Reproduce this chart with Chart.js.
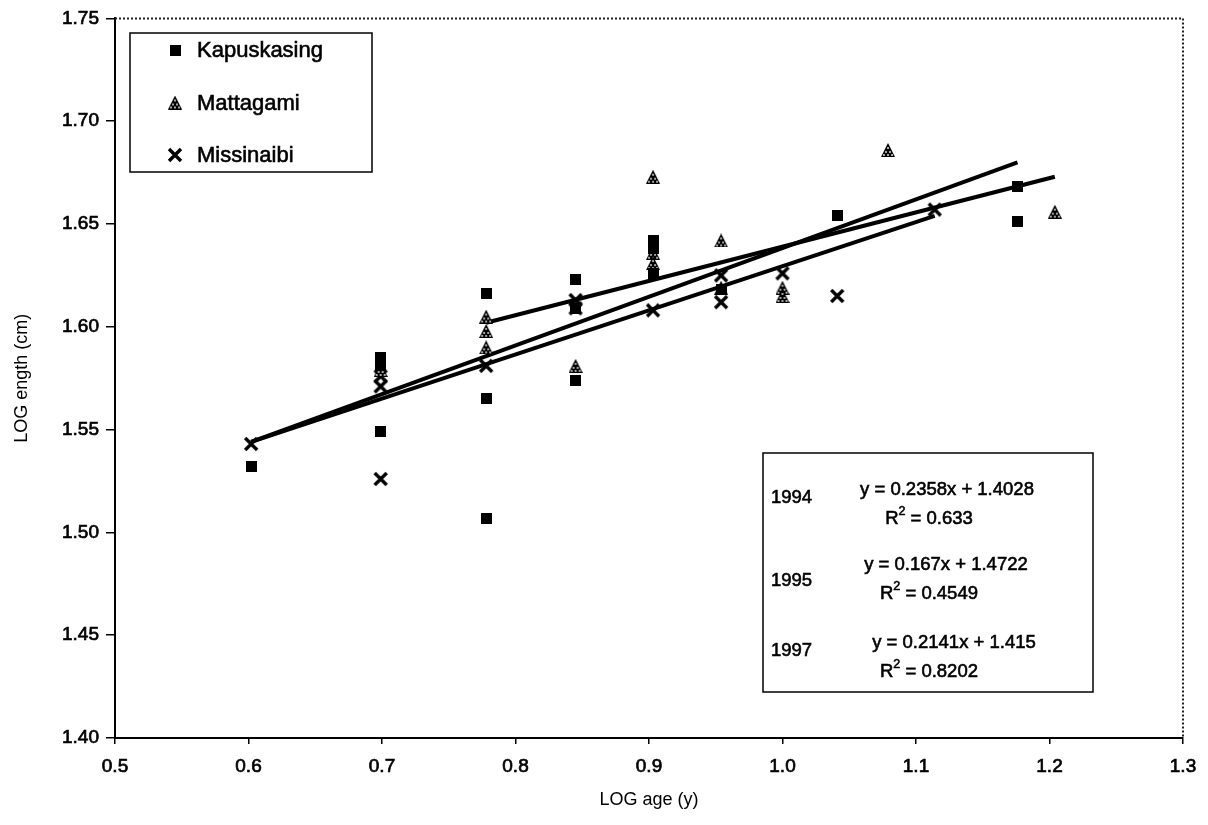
<!DOCTYPE html>
<html>
<head>
<meta charset="utf-8">
<script src="https://cdn.jsdelivr.net/npm/chart.js@4.4.1/dist/chart.umd.min.js"></script>
<style>
  html, body { margin: 0; padding: 0; background: #fff; }
  #wrap { width: 1208px; height: 825px; }
</style>
</head>
<body>
<div id="wrap"><canvas id="logChart" width="1208" height="825"></canvas></div>
<script>
// LOG age vs LOG length, three rivers
var kapX = [0.602, 0.699, 0.699, 0.699, 0.778, 0.778, 0.778, 0.845, 0.845, 0.845, 0.903, 0.903, 0.903, 0.954, 1.041, 1.176, 1.176];
var kapY = [1.532, 1.585, 1.581, 1.549, 1.616, 1.565, 1.507, 1.623, 1.609, 1.574, 1.642, 1.638, 1.626, 1.618, 1.654, 1.668, 1.651];

var matX = [0.699, 0.778, 0.778, 0.778, 0.845, 0.903, 0.903, 0.903, 0.954, 0.954, 1.0, 1.0, 1.079, 1.204];
var matY = [1.579, 1.605, 1.598, 1.590, 1.581, 1.673, 1.636, 1.631, 1.642, 1.619, 1.619, 1.615, 1.686, 1.656];

var misX = [0.602, 0.699, 0.699, 0.699, 0.778, 0.845, 0.845, 0.903, 0.954, 0.954, 1.0, 1.041, 1.114];
var misY = [1.543, 1.576, 1.571, 1.526, 1.581, 1.613, 1.609, 1.608, 1.625, 1.612, 1.626, 1.615, 1.657];

// trend lines (end points)
var t1994X = [0.602, 1.176];
var t1994Y = [1.544, 1.680];
var t1995X = [0.778, 1.204];
var t1995Y = [1.602, 1.673];
var t1997X = [0.602, 1.114];
var t1997Y = [1.544, 1.654];

var years = ["1994", "1995", "1997"];
var equations = ["y = 0.2358x + 1.4028", "y = 0.167x + 1.4722", "y = 0.2141x + 1.415"];
var rSquared = ["0.633", "0.4549", "0.8202"];

var seriesNames = ["Kapuskasing", "Mattagami", "Missinaibi"];

var FONT = "'Liberation Sans', Arial, sans-serif";

function pts(xs, ys) {
  return xs.map(function (x, i) { return { x: x, y: ys[i] }; });
}

// marker images
function squareMark() {
  var c = document.createElement("canvas");
  c.width = 11; c.height = 11;
  var g = c.getContext("2d");
  g.fillStyle = "#000";
  g.fillRect(0, 0, 11, 11);
  return c;
}
function triangleMark() {
  var c = document.createElement("canvas");
  c.width = 14; c.height = 14;
  var g = c.getContext("2d");
  g.fillStyle = "#000";
  g.beginPath();
  g.moveTo(7, 0); g.lineTo(14, 14); g.lineTo(0, 14); g.closePath();
  g.fill();
  g.fillStyle = "#fff";
  [[7, 5], [5, 9], [9, 9], [3, 12], [7, 12], [11, 12]].forEach(function (p) {
    g.fillRect(p[0] - 0.8, p[1] - 0.8, 1.6, 1.6);
  });
  return c;
}
function crossMark() {
  var c = document.createElement("canvas");
  c.width = 16; c.height = 16;
  var g = c.getContext("2d");
  g.strokeStyle = "#000";
  g.lineWidth = 3.4;
  g.beginPath();
  g.moveTo(2, 2); g.lineTo(14, 14);
  g.moveTo(14, 2); g.lineTo(2, 14);
  g.stroke();
  return c;
}
var sq = squareMark(), tri = triangleMark(), crs = crossMark();

function trend(label, xs, ys) {
  return {
    label: label,
    data: pts(xs, ys),
    showLine: true,
    borderColor: "#000",
    borderWidth: 4,
    pointRadius: 0,
    fill: false,
  };
}

// text with a hair stroke so it looks like the scanned print
function txt(ctx, s, x, y) {
  ctx.fillText(s, x, y);
  ctx.strokeText(s, x, y);
}

// legend box + equation box + dotted frame
var boxes = {
  id: "boxes",
  afterDraw: function (chart) {
    var ctx = chart.ctx;
    var a = chart.chartArea;
    ctx.save();
    // dotted top + right frame
    ctx.strokeStyle = "#222";
    ctx.lineWidth = 2;
    ctx.setLineDash([2, 2]);
    ctx.beginPath();
    ctx.moveTo(a.left, a.top); ctx.lineTo(a.right, a.top); ctx.lineTo(a.right, a.bottom);
    ctx.stroke();
    ctx.setLineDash([]);

    // series legend
    ctx.lineWidth = 1.5;
    ctx.strokeStyle = "#000";
    ctx.strokeRect(130, 33, 242, 139);
    var marks = [sq, tri, crs];
    ctx.fillStyle = "#000";
    ctx.textBaseline = "middle";
    ctx.textAlign = "left";
    ctx.lineWidth = 0.6;
    ctx.font = "22px " + FONT;
    seriesNames.forEach(function (n, i) {
      var y = 50 + i * 52.5;
      var m = marks[i];
      ctx.drawImage(m, 175 - m.width / 2, y - m.height / 2);
      txt(ctx, n, 197, y + 1);
    });

    // equation box
    ctx.lineWidth = 1.5;
    ctx.strokeRect(763, 453, 330, 239);
    ctx.lineWidth = 0.6;
    var eqCx = [947, 946, 954];
    var eqY = [490, 565, 643];
    var yrY = [498, 581, 651];
    years.forEach(function (yr, i) {
      var y0 = eqY[i];
      ctx.font = "18.5px " + FONT;
      ctx.textAlign = "left";
      txt(ctx, yr, 771, yrY[i]);
      ctx.textAlign = "center";
      txt(ctx, equations[i], eqCx[i], y0);
      // R² line
      var rest = " = " + rSquared[i];
      var wR = ctx.measureText("R").width;
      ctx.font = "12.5px " + FONT;
      var w2 = ctx.measureText("2").width;
      ctx.font = "18.5px " + FONT;
      var wRest = ctx.measureText(rest).width;
      var total = wR + w2 + wRest;
      var x = 929 - total / 2;
      var y1 = y0 + 29;
      ctx.textAlign = "left";
      txt(ctx, "R", x, y1);
      ctx.font = "12.5px " + FONT;
      txt(ctx, "2", x + wR, y1 - 7);
      ctx.font = "18.5px " + FONT;
      txt(ctx, rest, x + wR + w2, y1);
    });
    ctx.restore();
  },
};

var ctxEl = document.getElementById("logChart");
new Chart(ctxEl, {
  type: "scatter",
  data: {
    datasets: [
      { label: seriesNames[0], data: pts(kapX, kapY), pointStyle: sq, pointRadius: 6 },
      { label: seriesNames[1], data: pts(matX, matY), pointStyle: tri, pointRadius: 7 },
      { label: seriesNames[2], data: pts(misX, misY), pointStyle: crs, pointRadius: 8 },
      trend("1994", t1994X, t1994Y),
      trend("1995", t1995X, t1995Y),
      trend("1997", t1997X, t1997Y),
    ],
  },
  options: {
    responsive: false,
    animation: false,
    layout: { padding: { left: 0, right: 25, top: 15, bottom: 0 } },
    plugins: {
      legend: { display: false },
      tooltip: { enabled: false },
    },
    scales: {
      x: {
        type: "linear",
        min: 0.5,
        max: 1.3,
        ticks: {
          stepSize: 0.1,
          color: "#000",
          font: { family: FONT, size: 19 },
          textStrokeColor: "#000",
          textStrokeWidth: 0.7,
          padding: 11,
          callback: function (v) { return v.toFixed(1); },
        },
        grid: { display: true, drawOnChartArea: false, drawTicks: true, tickLength: 6, color: "#000", lineWidth: 1.5 },
        border: { display: true, color: "#000", width: 2 },
        title: { display: true, text: "LOG age (y)", color: "#000", font: { family: FONT, size: 18 }, padding: { top: 4, bottom: 14 } },
        afterFit: function (s) { s.height = 87; },
      },
      y: {
        type: "linear",
        min: 1.4,
        max: 1.75,
        ticks: {
          stepSize: 0.05,
          color: "#000",
          font: { family: FONT, size: 19 },
          textStrokeColor: "#000",
          textStrokeWidth: 0.7,
          padding: 7,
          callback: function (v) { return v.toFixed(2); },
        },
        grid: { display: true, drawOnChartArea: false, drawTicks: true, tickLength: 9, color: "#000", lineWidth: 1.5 },
        border: { display: true, color: "#000", width: 2 },
        title: { display: true, text: "LOG ength (cm)", color: "#000", font: { family: FONT, size: 18 }, padding: { top: 11, bottom: 4 } },
        afterFit: function (s) { s.width = 115; },
      },
    },
  },
  plugins: [boxes],
});
</script>
</body>
</html>
